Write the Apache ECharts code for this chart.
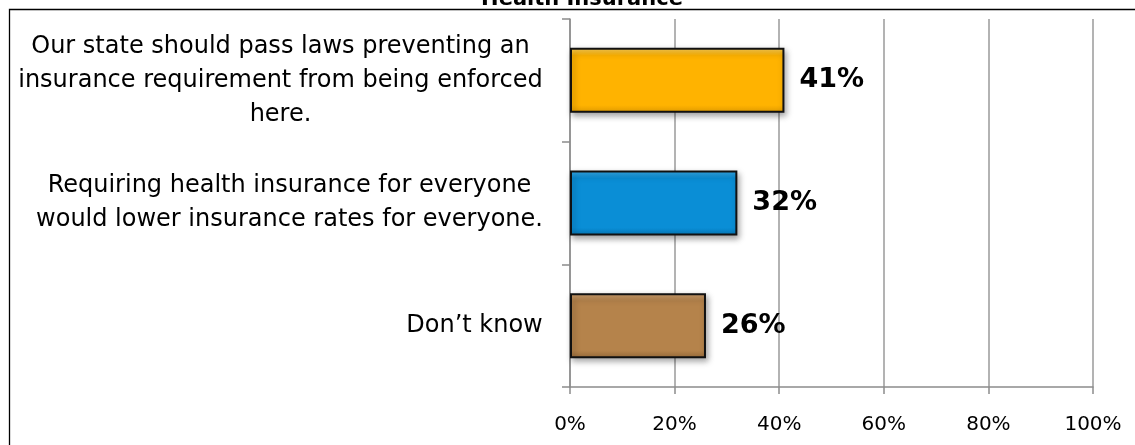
<!DOCTYPE html>
<html>
<head>
<meta charset="utf-8">
<script src="https://cdn.jsdelivr.net/npm/echarts@6/dist/echarts.min.js"></script>
<style>
html,body{margin:0;padding:0;background:#fff;}
#c{width:1135px;height:445px;}
</style>
</head>
<body>
<div id="c"></div>
<script>
var titleText = 'Health Insurance';
var categories = [
  'Our state should pass laws preventing an\ninsurance requirement from being enforced\nhere.',
  'Requiring health insurance for everyone\nwould lower insurance rates for everyone.',
  'Don\u2019t know'
];
var values = [41, 32, 26];
var xTickValues = [0, 20, 40, 60, 80, 100];

var barColors = [
  ['#FFD25A', '#FFB300', '#E8A000'],
  ['#3AAEEE', '#0A8ED6', '#0678B8'],
  ['#D2A474', '#B5834B', '#9C6E3C']
];

var LABEL_SIZE = 24;
var cv = document.createElement('canvas').getContext('2d');
cv.font = LABEL_SIZE + 'px "DejaVu Sans"';
var rich = {};
categories.forEach(function (c, i) {
  var w = 0;
  c.split('\n').forEach(function (l) { w = Math.max(w, cv.measureText(l).width); });
  rich['c' + i] = { width: Math.ceil(w), align: 'center', fontSize: LABEL_SIZE, fontFamily: 'DejaVu Sans', color: '#000', lineHeight: 34 };
});

var chart = echarts.init(document.getElementById('c'), null, { renderer: 'canvas' });
chart.setOption({
  animation: false,
  backgroundColor: '#fff',
  title: {
    text: titleText, left: 577, textAlign: 'center', top: -16,
    textStyle: { fontFamily: 'DejaVu Sans', fontWeight: 'bold', fontSize: 21, color: '#000' }
  },
  graphic: [{
    type: 'rect', silent: true, z: -1,
    shape: { x: 9.5, y: 9.5, width: 1200, height: 500 },
    style: { fill: 'none', stroke: '#000', lineWidth: 1.3 }
  }],
  grid: { left: 570, right: 42, top: 19, bottom: 58, containLabel: false },
  xAxis: {
    type: 'value', min: 0, max: 100, interval: 20,
    axisLine: { show: true, lineStyle: { color: '#8c8c8c', width: 1.5 } },
    axisTick: { show: true, length: 7, lineStyle: { color: '#8c8c8c', width: 1.5 } },
    splitLine: { show: true, lineStyle: { color: '#9a9a9a', width: 1.5 } },
    axisLabel: {
      margin: 28, color: '#000', fontSize: 20, fontFamily: 'DejaVu Sans',
      formatter: function (v) { return xTickValues.indexOf(v) >= 0 ? v + '%' : ''; }
    }
  },
  yAxis: {
    type: 'category', data: categories, inverse: true,
    axisLine: { show: true, lineStyle: { color: '#8c8c8c', width: 1.5 } },
    axisTick: { show: true, length: 8, lineStyle: { color: '#8c8c8c', width: 1.5 } },
    axisLabel: {
      margin: 27, align: 'right',
      formatter: function (v, i) {
        return v.split('\n').map(function (l) { return '{c' + i + '|' + l + '}'; }).join('\n');
      },
      rich: rich
    }
  },
  series: [{
    type: 'bar',
    data: values.map(function (v, i) {
      var c = barColors[i];
      return {
        value: v,
        itemStyle: {
          color: new echarts.graphic.LinearGradient(0, 0, 0, 1, [
            { offset: 0, color: c[0] }, { offset: 0.12, color: c[1] },
            { offset: 0.88, color: c[1] }, { offset: 1, color: c[2] }
          ])
        }
      };
    }),
    barWidth: 65,
    itemStyle: {
      borderColor: '#111', borderWidth: 2,
      shadowColor: 'rgba(0,0,0,0.35)', shadowBlur: 6, shadowOffsetX: 2, shadowOffsetY: 3
    },
    label: {
      show: true, position: 'right', distance: 15,
      formatter: '{c}%', color: '#000', fontSize: 27, fontWeight: 'bold', fontFamily: 'DejaVu Sans'
    }
  }]
});
</script>
</body>
</html>
